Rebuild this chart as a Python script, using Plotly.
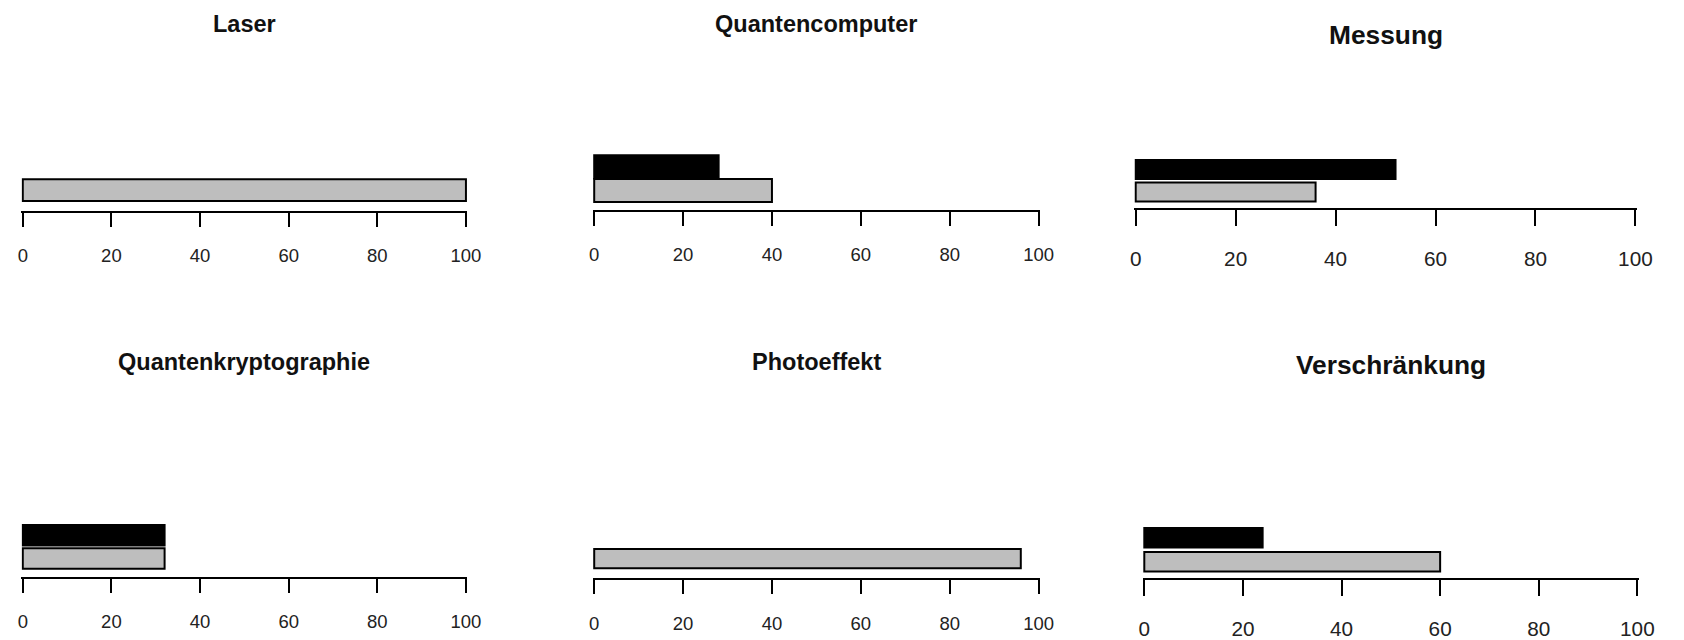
import plotly.graph_objects as go

# ---- data ----
topics = ["Laser", "Quantencomputer", "Messung",
          "Quantenkryptographie", "Photoeffekt", "Verschränkung"]
grey_values = [100, 40, 36, 32, 96, 60]
black_values = [0, 28, 52, 32, 0, 24]
series_names = ["Gruppe A", "Gruppe B"]
x_ticks = [0, 20, 40, 60, 80, 100]
x_tick_labels = ["0", "20", "40", "60", "80", "100"]

W, H = 1684, 640
FONT = "Liberation Sans Narrow, Liberation Sans, Arial, sans-serif"

# ---- layout of each panel, in pixels of the 1684x640 page ----
# x0/x1: pixel of value 0/100, ya: axis line, c0: centre of grey bar,
# u: pixels per category step, bw: bar thickness, ty: title centre, s: font scale
panels = [
    dict(x0=19.0,   x1=467.5,  ya=212.7, c0=191.7, u=23.5, bw=0.93, ty=24,  s=1.00),
    dict(x0=597.3,  x1=1047.0, ya=211.7, c0=192.0, u=23.8, bw=0.98, ty=24,  s=1.00),
    dict(x0=1145.3, x1=1651.0, ya=210.0, c0=193.5, u=22.7, bw=0.84, ty=35,  s=1.12),
    dict(x0=19.0,   x1=467.5,  ya=581.7, c0=563.0, u=23.5, bw=0.88, ty=365, s=1.00),
    dict(x0=597.3,  x1=1047.0, ya=583.0, c0=563.0, u=23.5, bw=0.82, ty=365, s=1.00),
    dict(x0=1154.0, x1=1653.0, ya=582.7, c0=566.2, u=24.2, bw=0.81, ty=368, s=1.12),
]

fig = go.Figure()
annotations = []
layout_axes = {}
pad = 0.3  # small padding so bar borders at 0 are not clipped

for i, (name, g, b, p) in enumerate(zip(topics, grey_values, black_values, panels)):
    n = i + 1
    xa = "x" if n == 1 else f"x{n}"
    ya_ = "y" if n == 1 else f"y{n}"
    fig.add_trace(go.Bar(
        x=[g], y=[series_names[0]], orientation="h", width=p["bw"],
        marker=dict(color="#bebebe",
                    line=dict(color="black", width=[2 if g else 0])),
        xaxis=xa, yaxis=ya_, name=series_names[0], showlegend=False,
        hovertemplate=name + " – " + series_names[0] + ": %{x}<extra></extra>"))
    fig.add_trace(go.Bar(
        x=[b], y=[series_names[1]], orientation="h", width=p["bw"],
        marker=dict(color="black",
                    line=dict(color="black", width=[2 if b else 0])),
        xaxis=xa, yaxis=ya_, name=series_names[1], showlegend=False,
        hovertemplate=name + " – " + series_names[1] + ": %{x}<extra></extra>"))

    pxu = (p["x1"] - p["x0"]) / 100.0
    left = p["x0"] - pad * pxu
    right = p["x1"] + pad * pxu
    top_px = p["ty"] + 25
    lo = -(p["ya"] - p["c0"]) / p["u"]
    hi = (p["c0"] - top_px) / p["u"]

    layout_axes["xaxis" if n == 1 else f"xaxis{n}"] = dict(
        domain=[left / W, right / W], range=[-pad, 100 + pad],
        anchor=ya_, tickvals=x_ticks, ticktext=x_tick_labels,
        showline=True, linecolor="black", linewidth=2,
        ticks="outside", ticklen=14 * p["s"], tickwidth=2, tickcolor="black",
        showgrid=False, zeroline=False, fixedrange=True,
        tickfont=dict(family=FONT, size=18.5 * p["s"], color="#222"),
        ticklabelstandoff=int(round(13 * p["s"])),
    )
    layout_axes["yaxis" if n == 1 else f"yaxis{n}"] = dict(
        domain=[1 - p["ya"] / H, 1 - top_px / H], range=[lo, hi],
        anchor=xa, type="category", categoryorder="array",
        categoryarray=series_names, visible=False, fixedrange=True,
    )
    annotations.append(dict(
        text="<b>" + name + "</b>", x=(p["x0"] + p["x1"]) / 2 / W, y=1 - p["ty"] / H,
        xref="paper", yref="paper", xanchor="center", yanchor="middle",
        showarrow=False, font=dict(family=FONT, size=23.5 * p["s"], color="#111")))

fig.update_layout(
    width=W, height=H, margin=dict(l=0, r=0, t=0, b=0),
    paper_bgcolor="white", plot_bgcolor="white",
    barmode="overlay", showlegend=False, annotations=annotations,
    **layout_axes)

fig.write_html("out.html")
